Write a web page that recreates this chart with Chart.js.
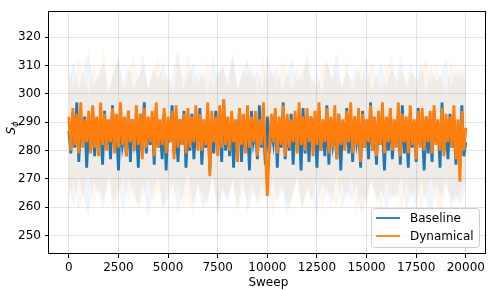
<!DOCTYPE html>
<html>
<head>
<meta charset="utf-8">
<script src="https://cdn.jsdelivr.net/npm/chart.js@4"></script>
<style>
  html, body { margin: 0; padding: 0; background: #fff; }
  #wrap { width: 488px; height: 290px; }
</style>
</head>
<body>
<div id="wrap"><canvas id="chart" width="488" height="290"></canvas></div>
<script>
// Sweep spacing of the stored samples
const lineStep = 100;
const bandStep = 250;

const xTicks = [0, 2500, 5000, 7500, 10000, 12500, 15000, 17500, 20000];
const yTicks = [250, 260, 270, 280, 290, 300, 310, 320];

// per 100-sweep bin: alternating high / low values
const baseline = [
  287,279,293,281,297,276,290,283,292,274,289,280,295,278,291,282,288,275,294,281,
  290,277,296,280,289,273,292,282,287,278,294,276,291,283,288,274,293,280,297,279,
  289,282,292,275,295,281,288,277,293,273,290,283,296,279,287,276,291,282,294,274,
  288,280,293,277,290,283,295,275,289,281,292,273,287,279,294,282,291,276,298,280,
  290,278,293,274,288,282,295,276,291,280,289,273,294,283,287,277,296,281,290,275,
  292,279,288,283,294,274,290,281,297,277,289,280,293,275,291,282,288,273,295,279,
  290,276,292,283,289,274,294,280,288,278,296,275,291,282,287,277,293,273,290,281,
  295,279,289,276,292,283,288,274,294,281,290,277,297,280,289,275,293,282,288,273,
  291,280,294,277,289,283,292,275,296,279,288,274,293,281,290,276,295,282,289,273,
  292,279,288,276,294,283,290,274,297,280,289,277,293,281,291,275,288,282,296,278,
  283
];

const dynamical = [
  292,280,295,282,293,279,297,281,291,283,294,279,296,281,292,278,297,282,293,280,
  291,283,295,279,293,281,297,282,292,278,294,283,291,280,296,282,293,277,295,281,
  292,283,294,278,297,281,291,282,295,279,292,283,294,277,296,281,291,282,293,279,
  295,281,292,283,296,280,293,280,291,282,297,271,294,283,292,278,296,281,298,282,
  292,280,294,283,291,276,295,282,293,279,296,281,292,283,294,278,291,282,297,280,
  264,281,293,283,295,279,292,282,296,278,293,281,291,283,294,279,297,282,292,280,
  295,283,292,278,294,282,297,280,291,283,295,279,292,281,296,277,293,282,291,280,
  294,283,297,279,292,282,295,276,293,281,291,283,296,280,292,278,294,282,297,279,
  292,283,295,280,291,281,297,278,293,283,292,279,296,282,291,277,294,281,295,280,
  292,283,294,279,296,282,291,280,295,278,293,283,292,281,296,277,291,269,294,280,
  288
];

// spread bands (upper / lower) for each run
const baseUpper = [
  305,312,301,309,315,303,307,311,300,308,313,304,310,302,306,314,301,309,305,312,
  303,308,316,302,307,311,304,309,300,313,306,310,303,315,301,308,312,305,309,302,
  314,306,310,301,307,313,304,308,311,303,309,300,312,306,315,302,308,305,310,304,
  313,301,307,311,303,309,306,314,302,308,305,312,300,310,304,307,313,303,309,306,
  311
];
const baseLower = [
  268,260,271,263,257,269,265,259,272,262,267,258,270,264,261,268,256,266,271,260,
  263,269,258,265,272,261,267,259,264,270,257,266,262,269,260,271,258,265,263,268,
  259,270,262,266,257,264,271,260,267,263,258,269,265,261,272,259,266,262,268,257,
  264,270,261,267,259,265,263,271,258,266,260,269,262,257,268,264,270,259,265,261,
  267
];
const dynUpper = [
  309,302,313,306,300,311,304,316,303,308,312,301,307,314,305,310,302,309,313,304,
  308,300,311,306,315,303,309,305,312,301,307,310,304,313,302,308,306,311,300,314,
  305,309,303,312,307,301,310,304,315,306,302,309,311,305,308,303,313,300,307,310,
  304,312,306,301,309,314,303,308,305,311,302,307,313,304,310,306,300,312,305,309,
  303
];
const dynLower = [
  262,270,258,266,272,260,267,263,269,257,265,271,261,268,259,264,270,262,266,258,
  271,263,268,260,265,257,269,264,261,272,259,267,263,270,258,266,262,269,260,264,
  271,257,265,268,261,263,270,259,266,262,272,258,267,264,260,269,263,271,257,265,
  261,268,264,259,270,262,266,258,269,263,267,260,265,271,262,257,268,264,261,266,
  270
];

const BLUE = "#1f77b4";
const ORANGE = "#ff7f0e";
const FONT = "DejaVu Sans";

function pts(arr, step) {
  return arr.map((v, i) => ({ x: i * step, y: v }));
}

function band(arr, step, color, fillTarget) {
  return {
    label: "_band",
    data: pts(arr, step),
    borderWidth: 0,
    borderColor: "rgba(0,0,0,0)",
    backgroundColor: color,
    pointRadius: 0,
    fill: fillTarget === undefined ? false : { target: fillTarget }
  };
}

const extras = {
  id: "extras",
  afterDraw(chart) {
    const ctx = chart.ctx;
    const a = chart.chartArea;
    ctx.save();

    // frame
    ctx.strokeStyle = "#000";
    ctx.lineWidth = 1;
    ctx.strokeRect(Math.round(a.left) - 0.5, Math.round(a.top) + 0.5,
      Math.round(a.right - a.left), Math.round(a.bottom - a.top) - 1);

    // x title
    ctx.fillStyle = "#000";
    ctx.font = "12px " + FONT;
    ctx.textAlign = "center";
    ctx.textBaseline = "middle";
    ctx.fillText("Sweep", (a.left + a.right) / 2 + 1, 283);

    // y title S_phi
    ctx.save();
    ctx.translate(15, 128);
    ctx.rotate(-Math.PI / 2);
    ctx.textAlign = "left";
    ctx.textBaseline = "alphabetic";
    ctx.font = "italic 12px " + FONT;
    const wS = ctx.measureText("S").width;
    ctx.font = "italic 8.5px " + FONT;
    const wP = ctx.measureText("ϕ").width;
    const x0 = -(wS + wP) / 2;
    ctx.font = "italic 12px " + FONT;
    ctx.fillText("S", x0, 0);
    ctx.font = "italic 8.5px " + FONT;
    ctx.fillText("ϕ", x0 + wS, 3);
    ctx.restore();

    // legend
    const lx = 371.5, ly = 208.5, lw = 108, lh = 39;
    ctx.beginPath();
    ctx.roundRect(lx, ly, lw, lh, 3);
    ctx.fillStyle = "rgba(255,255,255,0.8)";
    ctx.fill();
    ctx.strokeStyle = "#cccccc";
    ctx.lineWidth = 1;
    ctx.stroke();

    const items = [
      { label: chart.data.datasets[1].label, color: BLUE, y: 218 },
      { label: chart.data.datasets[0].label, color: ORANGE, y: 236 }
    ];
    ctx.font = "12px " + FONT;
    ctx.textAlign = "left";
    ctx.textBaseline = "middle";
    items.forEach(it => {
      ctx.strokeStyle = it.color;
      ctx.lineWidth = 1.8;
      ctx.beginPath();
      ctx.moveTo(376, it.y);
      ctx.lineTo(400, it.y);
      ctx.stroke();
      ctx.fillStyle = "#000";
      ctx.fillText(it.label, 410, it.y + 0.5);
    });

    ctx.restore();
  }
};

new Chart(document.getElementById("chart"), {
  type: "line",
  data: {
    datasets: [
      { label: "Dynamical", data: pts(dynamical, lineStep), borderColor: ORANGE, borderWidth: 2.8, pointRadius: 0, fill: false },
      { label: "Baseline", data: pts(baseline, lineStep), borderColor: BLUE, borderWidth: 2.8, pointRadius: 0, fill: false },
      band(baseUpper, bandStep, "rgba(31,119,180,0.07)", 3),
      band(baseLower, bandStep, "rgba(31,119,180,0.07)"),
      band(dynUpper, bandStep, "rgba(255,127,14,0.08)", 5),
      band(dynLower, bandStep, "rgba(255,127,14,0.08)")
    ]
  },
  options: {
    responsive: false,
    animation: false,
    layout: { padding: { top: 1, right: 2, left: 0, bottom: 0 } },
    elements: { line: { tension: 0, borderJoinStyle: "miter" } },
    plugins: { legend: { display: false }, tooltip: { enabled: false } },
    scales: {
      x: {
        type: "linear",
        min: -1000,
        max: 21000,
        afterBuildTicks(s) { s.ticks = xTicks.map(v => ({ value: v })); },
        afterFit(s) { s.height = 36; },
        grid: { color: "rgba(176,176,176,0.35)", tickColor: "#000", tickLength: 4 },
        border: { display: false },
        ticks: {
          autoSkip: false, maxRotation: 0, padding: 3, color: "#000",
          font: { family: FONT, size: 12 },
          callback: v => String(v)
        }
      },
      y: {
        min: 243.5,
        max: 329.2,
        afterBuildTicks(s) { s.ticks = yTicks.map(v => ({ value: v })); },
        afterFit(s) { s.width = 49; },
        grid: { color: "rgba(176,176,176,0.35)", tickColor: "#000", tickLength: 4 },
        border: { display: false },
        ticks: {
          padding: 4, color: "#000",
          font: { family: FONT, size: 12 },
          callback: v => String(v)
        }
      }
    }
  },
  plugins: [extras]
});
</script>
</body>
</html>
